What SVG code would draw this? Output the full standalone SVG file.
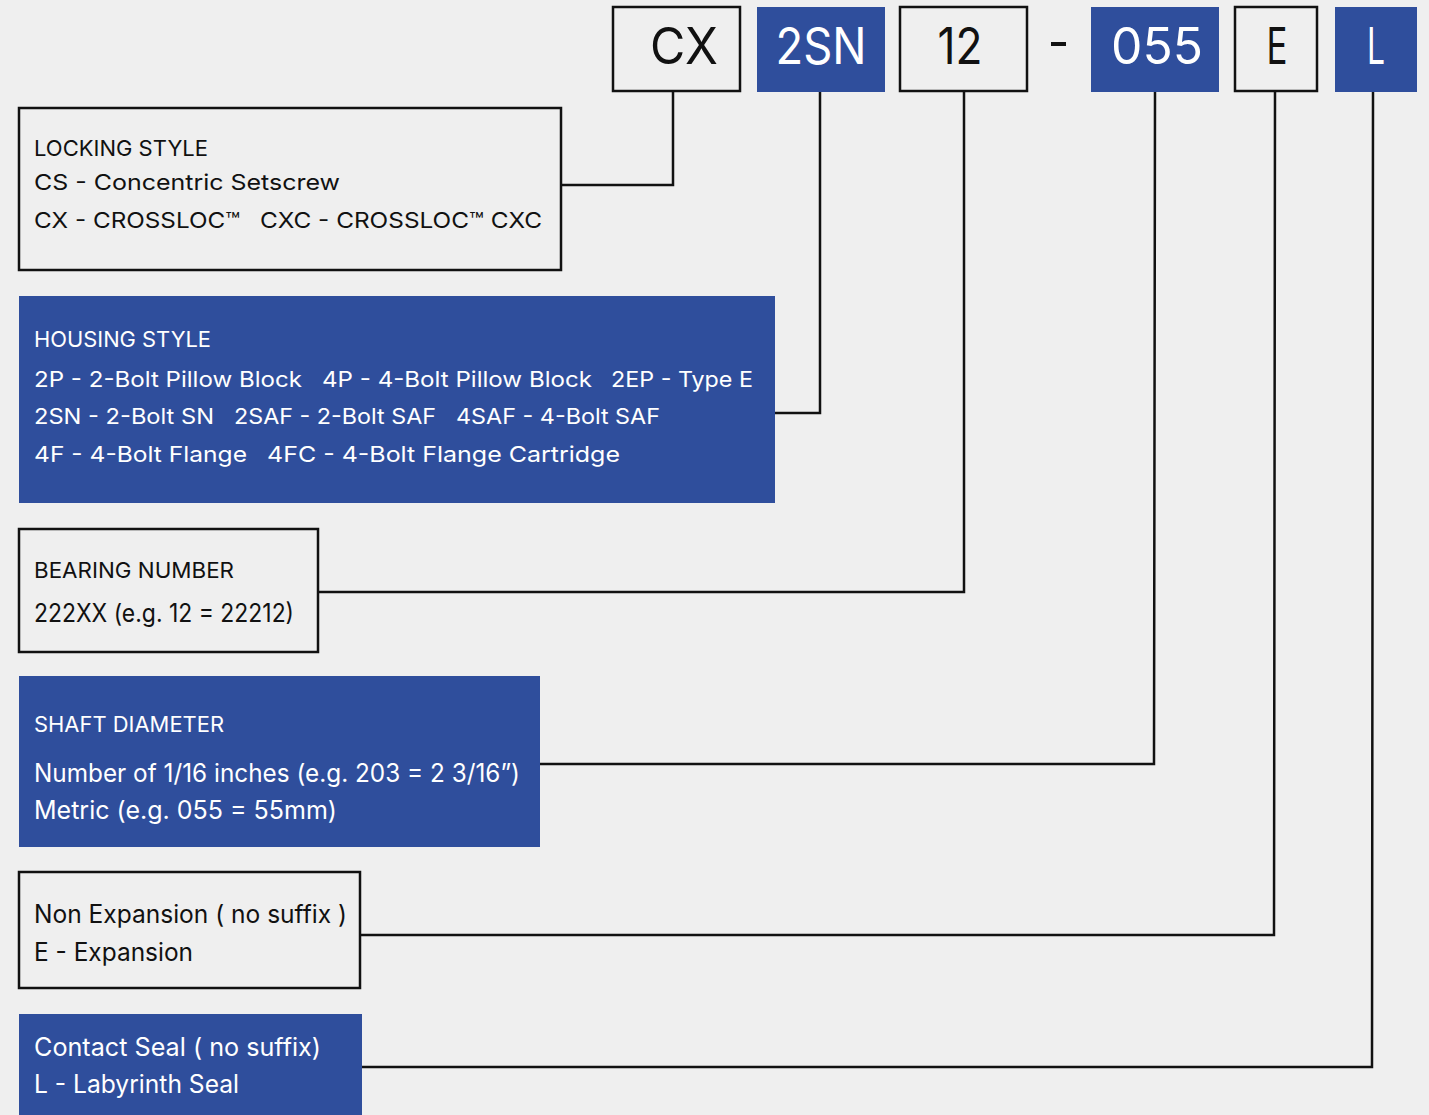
<svg xmlns="http://www.w3.org/2000/svg" width="1429" height="1115" viewBox="0 0 1429 1115">
<style>
.bg{fill:#efefef}
.ob{fill:#efefef;stroke:#111;stroke-width:2.5}
.bb{fill:#2f4e9c}
.t{font-family:Inter,"Noto Sans","Liberation Sans",sans-serif;font-size:22px}
.tl{font-family:Inter,"Noto Sans","Liberation Sans",sans-serif;font-size:25px}
.k{fill:#111}
.w{fill:#ffffff}
.code{font-family:Inter,"Noto Sans","Liberation Sans",sans-serif;font-size:50px;text-anchor:middle}
.c{fill:none;stroke:#111;stroke-width:2.5}
</style>
<rect class="bg" x="0" y="0" width="1429" height="1115"/>

<g id="code-cx"><rect class="ob" x="613" y="7" width="127" height="84"/><text class="code k" x="684" y="64" textLength="68" lengthAdjust="spacingAndGlyphs">CX</text></g>
<g id="code-2sn"><rect class="bb" x="757" y="7" width="128" height="85"/><text class="code w" x="821" y="64" textLength="91" lengthAdjust="spacingAndGlyphs">2SN</text></g>
<g id="code-12"><rect class="ob" x="900" y="7" width="127" height="84"/><text class="code k" x="960" y="64" textLength="45" lengthAdjust="spacingAndGlyphs">12</text></g>
<g id="code-dash"><rect x="1051" y="42" width="15" height="4" fill="#111"/></g>
<g id="code-055"><rect class="bb" x="1091" y="7" width="128" height="85"/><text class="code w" x="1157" y="64" textLength="92" lengthAdjust="spacingAndGlyphs">055</text></g>
<g id="code-e"><rect class="ob" x="1235" y="7" width="82" height="84"/><text class="code k" x="1277" y="64" textLength="21" lengthAdjust="spacingAndGlyphs">E</text></g>
<g id="code-l"><rect class="bb" x="1335" y="7" width="82" height="85"/><text class="code w" x="1376" y="64" textLength="18" lengthAdjust="spacingAndGlyphs">L</text></g>

<g id="connectors">
<polyline class="c" points="673,91 673,185 561,185"/>
<polyline class="c" points="820,92 820,413 775,413"/>
<polyline class="c" points="964,91 964,592 318,592"/>
<polyline class="c" points="1155,92 1154,764 540,764"/>
<polyline class="c" points="1275,91 1274,935 360,935"/>
<polyline class="c" points="1373,92 1372,1067 362,1067"/>
</g>

<g id="locking-style">
<rect class="ob" x="19" y="108" width="542" height="162"/>
<text class="t k" x="34" y="156" textLength="174" lengthAdjust="spacingAndGlyphs">LOCKING STYLE</text>
<text class="t k" x="34" y="190" textLength="306" lengthAdjust="spacingAndGlyphs">CS - Concentric Setscrew</text>
<text class="t k" x="34" y="228" textLength="206" lengthAdjust="spacingAndGlyphs">CX - CROSSLOC™</text>
<text class="t k" x="260" y="228" textLength="282" lengthAdjust="spacingAndGlyphs">CXC - CROSSLOC™ CXC</text>
</g>

<g id="housing-style">
<rect class="bb" x="19" y="296" width="756" height="207"/>
<text class="t w" x="34" y="347" textLength="177" lengthAdjust="spacingAndGlyphs">HOUSING STYLE</text>
<text class="t w" x="34" y="387" textLength="268" lengthAdjust="spacingAndGlyphs">2P - 2-Bolt Pillow Block</text>
<text class="t w" x="322" y="387" textLength="270" lengthAdjust="spacingAndGlyphs">4P - 4-Bolt Pillow Block</text>
<text class="t w" x="611" y="387" textLength="142" lengthAdjust="spacingAndGlyphs">2EP - Type E</text>
<text class="t w" x="34" y="424" textLength="180" lengthAdjust="spacingAndGlyphs">2SN - 2-Bolt SN</text>
<text class="t w" x="234" y="424" textLength="202" lengthAdjust="spacingAndGlyphs">2SAF - 2-Bolt SAF</text>
<text class="t w" x="456" y="424" textLength="204" lengthAdjust="spacingAndGlyphs">4SAF - 4-Bolt SAF</text>
<text class="t w" x="34" y="462" textLength="213" lengthAdjust="spacingAndGlyphs">4F - 4-Bolt Flange</text>
<text class="t w" x="267" y="462" textLength="353" lengthAdjust="spacingAndGlyphs">4FC - 4-Bolt Flange Cartridge</text>
</g>

<g id="bearing-number">
<rect class="ob" x="19" y="529" width="299" height="123"/>
<text class="t k" x="34" y="578" textLength="200" lengthAdjust="spacingAndGlyphs">BEARING NUMBER</text>
<text class="tl k" x="34" y="622" textLength="260" lengthAdjust="spacingAndGlyphs">222XX (e.g. 12 = 22212)</text>
</g>

<g id="shaft-diameter">
<rect class="bb" x="19" y="676" width="521" height="171"/>
<text class="t w" x="34" y="732" textLength="190" lengthAdjust="spacingAndGlyphs">SHAFT DIAMETER</text>
<text class="tl w" x="34" y="782" textLength="486" lengthAdjust="spacingAndGlyphs">Number of 1/16 inches (e.g. 203 = 2 3/16”)</text>
<text class="tl w" x="34" y="819" textLength="303" lengthAdjust="spacingAndGlyphs">Metric (e.g. 055 = 55mm)</text>
</g>

<g id="expansion">
<rect class="ob" x="19" y="872" width="341" height="116"/>
<text class="tl k" x="34" y="923" textLength="313" lengthAdjust="spacingAndGlyphs">Non Expansion ( no suffix )</text>
<text class="tl k" x="34" y="961" textLength="159" lengthAdjust="spacingAndGlyphs">E - Expansion</text>
</g>

<g id="seal">
<rect class="bb" x="19" y="1014" width="343" height="110"/>
<text class="tl w" x="34" y="1056" textLength="287" lengthAdjust="spacingAndGlyphs">Contact Seal ( no suffix)</text>
<text class="tl w" x="34" y="1093" textLength="205" lengthAdjust="spacingAndGlyphs">L - Labyrinth Seal</text>
</g>
</svg>
